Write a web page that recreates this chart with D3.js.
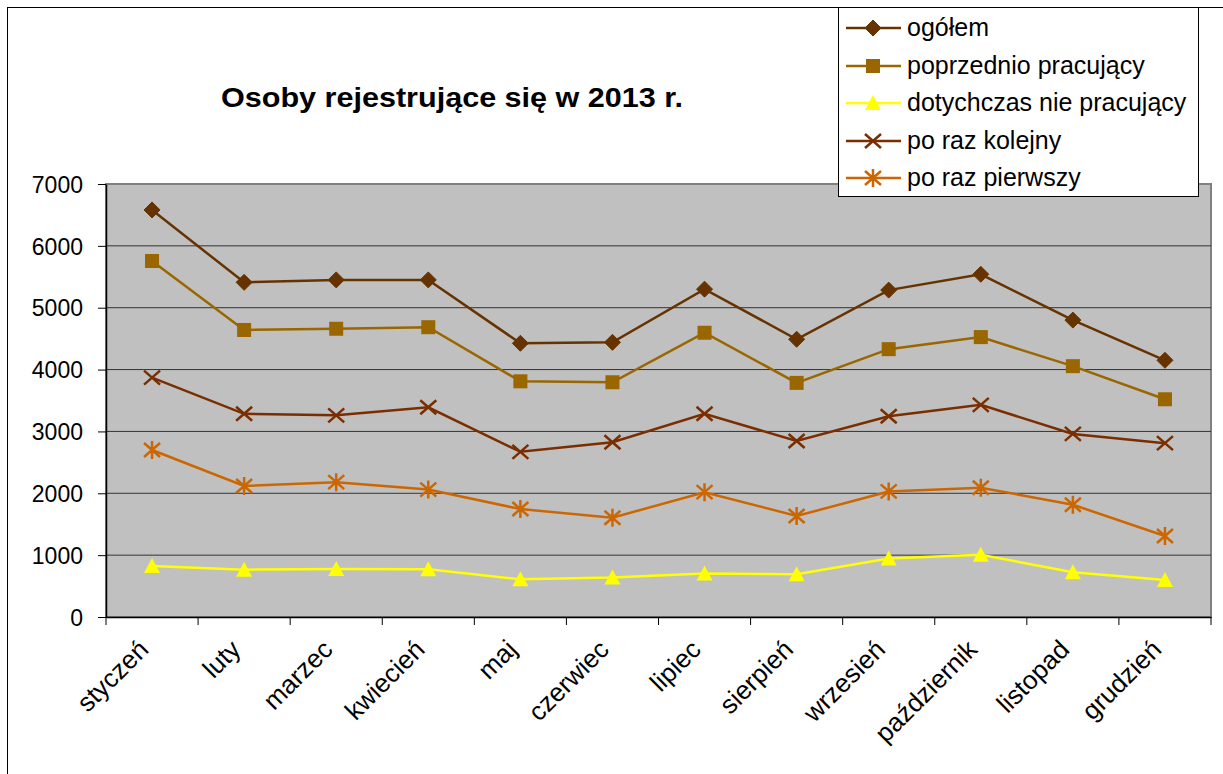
<!DOCTYPE html>
<html><head><meta charset="utf-8">
<script src="https://cdn.jsdelivr.net/npm/d3@7"></script>
<style>body{margin:0;background:#fff;font-family:"Liberation Sans",Arial,sans-serif}</style>
</head><body><svg id="c" width="1223" height="774"></svg>
<script>
const months = ["styczeń","luty","marzec","kwiecień","maj","czerwiec","lipiec","sierpień","wrzesień","październik","listopad","grudzień"];
const ogolem = [6580,5410,5450,5450,4425,4440,5300,4490,5285,5540,4800,4150];
const poprzednio = [5755,4640,4660,4685,3810,3795,4595,3785,4330,4525,4055,3520];
const dotychczas = [825,765,775,770,610,640,705,690,945,1005,725,600];
const kolejny = [3870,3285,3260,3390,2670,2825,3285,2845,3245,3430,2960,2810];
const pierwszy = [2700,2118,2180,2060,1745,1605,2018,1633,2030,2090,1815,1310];
const yTicks = [0,1000,2000,3000,4000,5000,6000,7000];
const seriesNames = ["ogółem","poprzednio pracujący","dotychczas nie pracujący","po raz kolejny","po raz pierwszy"];
const seriesColors = ["#663300","#996600","#FFFF00","#7A2E00","#CC6600"];
const seriesMarkers = ["diamond","square","triangle","x","star"];
const seriesValues = [ogolem,poprzednio,dotychczas,kolejny,pierwszy];

const FONT = "Liberation Sans, Arial, sans-serif";
const svg = d3.select("#c");
const L=106,R=1211,T=184,B=617;
svg.append("rect").attr("x",7.5).attr("y",7.5).attr("width",1300).attr("height",900).attr("fill","#fff").attr("stroke","#000").attr("stroke-width",1);

const x = d3.scaleBand().domain(months).range([L,R]).padding(0);
const y = d3.scaleLinear().domain([0,7000]).range([B,T]);

svg.append("rect").attr("x",L).attr("y",T).attr("width",R-L).attr("height",B-T).attr("fill","#C0C0C0").attr("stroke","#808080").attr("stroke-width",2);

svg.append("g").selectAll("line").data(yTicks.filter(d=>d>0&&d<7000)).join("line")
  .attr("x1",L).attr("x2",R).attr("y1",d=>y(d)).attr("y2",d=>y(d)).attr("stroke","#333").attr("stroke-width",1);

const ya = svg.append("g").attr("transform",`translate(${L},0)`)
  .call(d3.axisLeft(y).tickValues(yTicks).tickFormat(d3.format("d")).tickSize(8).tickSizeOuter(0).tickPadding(15));
ya.select(".domain").attr("stroke","#000").attr("stroke-width",1.5);
ya.selectAll("text").attr("font-size",23).attr("font-family",FONT).attr("fill","#000").attr("dy","0.36em");
ya.selectAll("line").attr("stroke","#000");

const xa = svg.append("g").attr("transform",`translate(0,${B})`).call(d3.axisBottom(x).tickSize(0).tickSizeOuter(0));
xa.select(".domain").attr("stroke","#000").attr("stroke-width",1.5);
xa.selectAll(".tick line").remove();
xa.selectAll("text").attr("font-size",26).attr("font-family",FONT).attr("fill","#000")
  .attr("text-anchor","end").attr("dy",0).attr("y",0)
  .attr("transform","translate(-2,34) rotate(-45)");
const bounds = months.map(m=>x(m)).concat([R]);
svg.append("g").selectAll("line").data(bounds).join("line")
  .attr("x1",d=>d).attr("x2",d=>d).attr("y1",B).attr("y2",B+8).attr("stroke","#000");

function marker(g,type,color){
  if(type==="diamond") g.append("path").attr("d","M0,-8L8,0L0,8L-8,0Z").attr("fill",color).attr("stroke",color);
  else if(type==="square") g.append("rect").attr("x",-7).attr("y",-7).attr("width",14).attr("height",14).attr("fill",color);
  else if(type==="triangle") g.append("path").attr("d","M0,-8L8,7L-8,7Z").attr("fill",color);
  else if(type==="x") g.append("path").attr("d","M-8,-7L8,7M-8,7L8,-7").attr("stroke",color).attr("stroke-width",2.5).attr("fill","none");
  else if(type==="star") g.append("path").attr("d","M-8,-7L8,7M-8,7L8,-7M0,-9L0,9").attr("stroke",color).attr("stroke-width",2.5).attr("fill","none");
}
const line = d3.line().x((d,i)=>x(months[i])+x.bandwidth()/2).y(d=>y(d));
seriesValues.forEach((vals,si)=>{
  const c = seriesColors[si];
  svg.append("path").attr("d",line(vals)).attr("fill","none").attr("stroke",c).attr("stroke-width",2.5);
  vals.forEach((v,i)=>{
    const g = svg.append("g").attr("transform",`translate(${x(months[i])+x.bandwidth()/2},${y(v)})`);
    marker(g,seriesMarkers[si],c);
  });
});

svg.append("text").attr("x",221).attr("y",107).attr("font-size",27).attr("font-weight","bold")
  .attr("textLength",462).attr("lengthAdjust","spacingAndGlyphs")
  .attr("font-family",FONT).text("Osoby rejestrujące się w 2013 r.");

const lg = svg.append("g");
lg.append("rect").attr("x",838.5).attr("y",7.5).attr("width",360).attr("height",189).attr("fill","#fff").attr("stroke","#000");
const legY = [28,66,103,141,178];
seriesNames.forEach((n,i)=>{
  const c = seriesColors[i];
  lg.append("line").attr("x1",846).attr("x2",901).attr("y1",legY[i]).attr("y2",legY[i]).attr("stroke",c).attr("stroke-width",2.5);
  marker(lg.append("g").attr("transform",`translate(873,${legY[i]})`),seriesMarkers[i],c);
  lg.append("text").attr("x",907).attr("y",legY[i]+8).attr("font-size",25).attr("font-family",FONT).text(n);
});
</script></body></html>
